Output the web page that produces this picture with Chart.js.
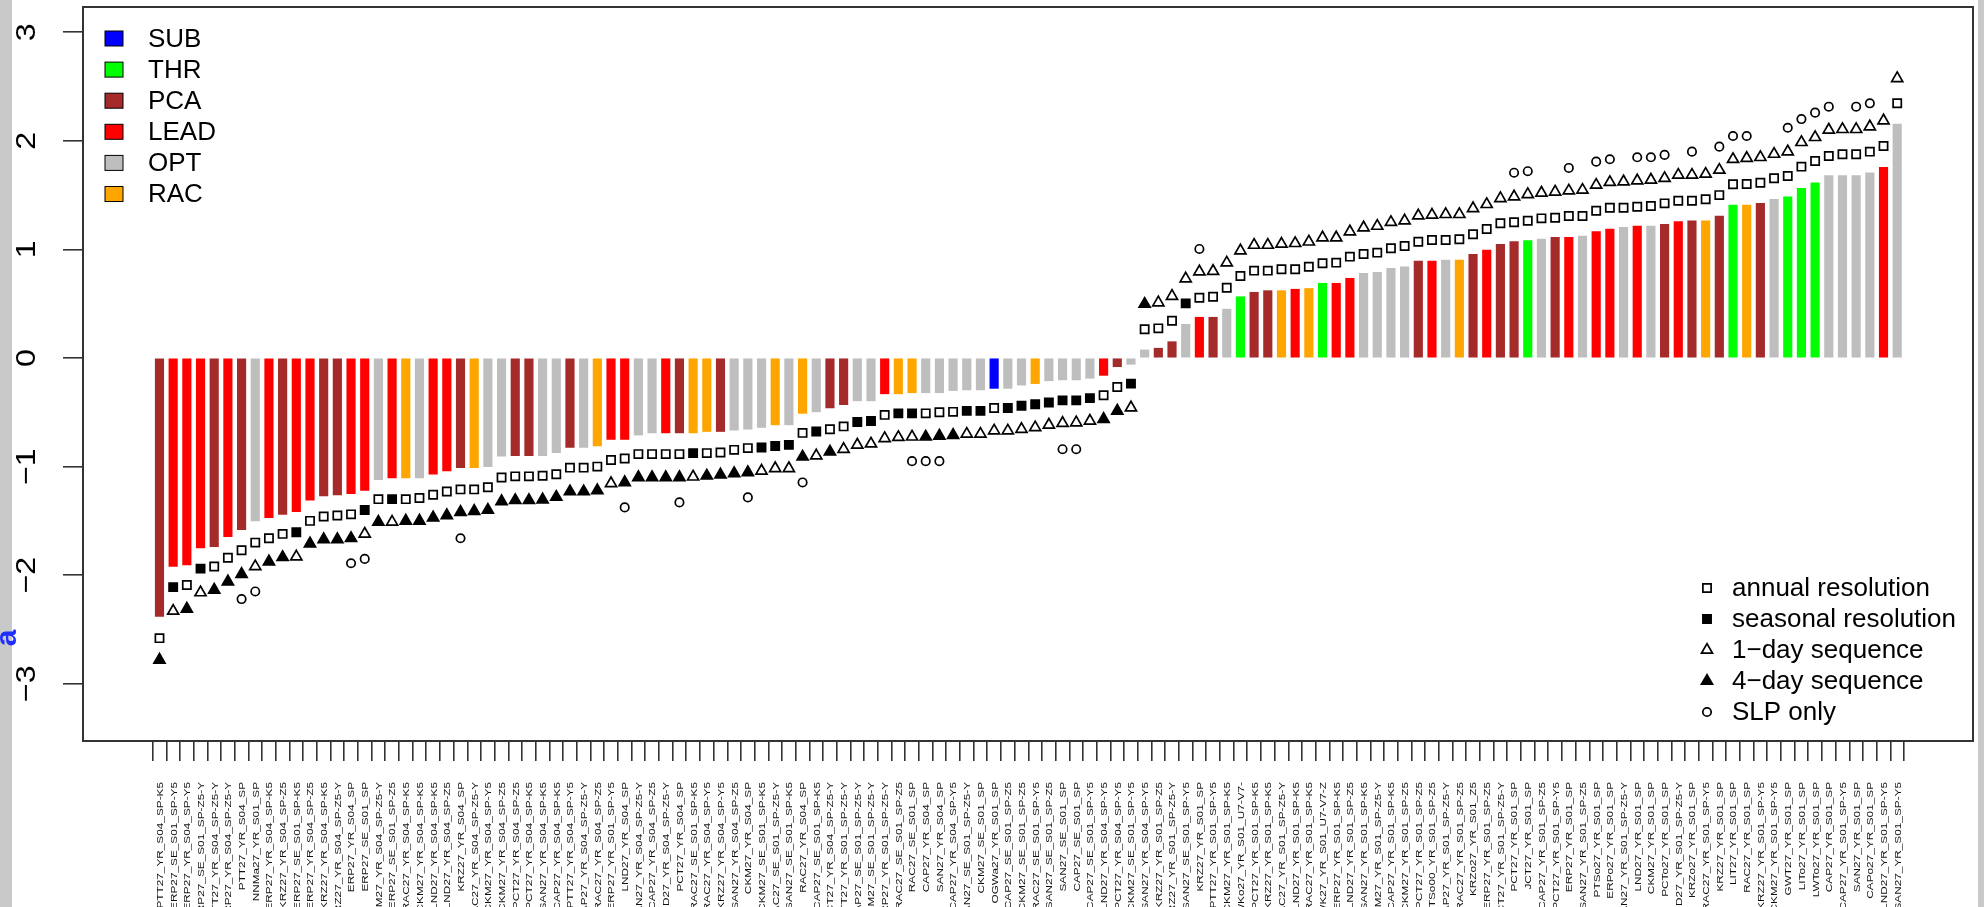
<!DOCTYPE html>
<html>
<head>
<meta charset="utf-8">
<title>Skill scores by reconstruction</title>
<style>
  html, body { margin: 0; padding: 0; background: #fff; overflow: hidden; }
  canvas { display: block; }
</style>
<script src="https://cdn.jsdelivr.net/npm/chart.js@4/dist/chart.umd.min.js"></script>
</head>
<body>
<canvas id="c" width="1984" height="907"></canvas>
<script>
// ---- reconstruction names (x axis), sorted by bar value ----
const categories = [
  "PTT27_YR_S04_SP-K5","ERP27_SE_S01_SP-Y5","ERP27_YR_S04_SP-Y5","ERP27_SE_S01_SP-Z5-Y","PTT27_YR_S04_SP-Z5-Y",
  "ERP27_YR_S04_SP-Z5-Y","PTT27_YR_S04_SP","NNMa27_YR_S01_SP","ERP27_YR_S04_SP-K5","KRZ27_YR_S04_SP-Z5",
  "ERP27_SE_S01_SP-K5","ERP27_YR_S04_SP-Z5","KRZ27_YR_S04_SP-K5","KRZ27_YR_S04_SP-Z5-Y","ERP27_YR_S04_SP",
  "ERP27_SE_S01_SP","CKM27_YR_S04_SP-Z5-Y","ERP27_SE_S01_SP-Z5","RAC27_YR_S04_SP-K5","CKM27_YR_S04_SP-K5",
  "LND27_YR_S04_SP-K5","LND27_YR_S04_SP-Z5","KRZ27_YR_S04_SP","RAC27_YR_S04_SP-Z5-Y","CKM27_YR_S04_SP-Y5",
  "CKM27_YR_S04_SP-Z5","PCT27_YR_S04_SP-Z5","PCT27_YR_S04_SP-K5","SAN27_YR_S04_SP-K5","CAP27_YR_S04_SP-K5",
  "PTT27_YR_S04_SP-Y5","CAP27_YR_S04_SP-Z5-Y","RAC27_YR_S04_SP-Z5","ERP27_YR_S01_SP-Y5","LND27_YR_S04_SP",
  "SAN27_YR_S04_SP-Z5-Y","CAP27_YR_S04_SP-Z5","LND27_YR_S04_SP-Z5-Y","PCT27_YR_S04_SP","RAC27_SE_S01_SP-K5",
  "RAC27_YR_S04_SP-Y5","KRZ27_YR_S04_SP-Y5","SAN27_YR_S04_SP-Z5","CKM27_YR_S04_SP","CKM27_SE_S01_SP-K5",
  "RAC27_SE_S01_SP-Z5-Y","SAN27_SE_S01_SP-K5","RAC27_YR_S04_SP","CAP27_SE_S01_SP-K5","PCT27_YR_S04_SP-Z5-Y",
  "PTT27_YR_S01_SP-Z5-Y","CAP27_SE_S01_SP-Z5-Y","CKM27_SE_S01_SP-Z5-Y","ERP27_YR_S01_SP-Z5-Y","RAC27_SE_S01_SP-Z5",
  "RAC27_SE_S01_SP","CAP27_YR_S04_SP","SAN27_YR_S04_SP","CAP27_YR_S04_SP-Y5","SAN27_SE_S01_SP-Z5-Y",
  "CKM27_SE_S01_SP","OGWa27_YR_S01_SP","CAP27_SE_S01_SP-Z5","CKM27_SE_S01_SP-Z5","RAC27_SE_S01_SP-Y5",
  "SAN27_SE_S01_SP-Z5","SAN27_SE_S01_SP","CAP27_SE_S01_SP","CAP27_SE_S01_SP-Y5","LND27_YR_S04_SP-Y5",
  "PCT27_YR_S04_SP-Y5","CKM27_SE_S01_SP-Y5","SAN27_YR_S04_SP-Y5","KRZ27_YR_S01_SP-Z5","KRZ27_YR_S01_SP-Z5-Y",
  "SAN27_SE_S01_SP-Y5","KRZ27_YR_S01_SP","PTT27_YR_S01_SP-Y5","CKM27_YR_S01_SP-K5","LWKo27_YR_S01_U7-V7-",
  "PCT27_YR_S01_SP-K5","KRZ27_YR_S01_SP-K5","RAC27_YR_S01_SP-Z5-Y","LND27_YR_S01_SP-K5","RAC27_YR_S01_SP-K5",
  "LWK27_YR_S01_U7-V7-Z","ERP27_YR_S01_SP-K5","LND27_YR_S01_SP-Z5","SAN27_YR_S01_SP-K5","CKM27_YR_S01_SP-Z5-Y",
  "CAP27_YR_S01_SP-K5","CKM27_YR_S01_SP-Z5","PCT27_YR_S01_SP-Z5","PTSo00_YR_S01_SP-Z5","CAP27_YR_S01_SP-Z5-Y",
  "RAC27_YR_S01_SP-Z5","KRZo27_YR_S01_Z5","ERP27_YR_S01_SP-Z5","PCT27_YR_S01_SP-Z5-Y","PCT27_YR_S01_SP",
  "JCT27_YR_S01_SP","CAP27_YR_S01_SP-Z5","PCT27_YR_S01_SP-Y5","ERP27_YR_S01_SP","SAN27_YR_S01_SP-Z5",
  "PTSo27_YR_S01_SP","ERPo27_YR_S01_SP","SAN27_YR_S01_SP-Z5-Y","LND27_YR_S01_SP","CKM27_YR_S01_SP",
  "PCTo27_YR_S01_SP","LND27_YR_S01_SP-Z5-Y","KRZo27_YR_S01_SP","RAC27_YR_S01_SP-Y5","KRZ27_YR_S01_SP",
  "LIT27_YR_S01_SP","RAC27_YR_S01_SP","KRZ27_YR_S01_SP-Y5","CKM27_YR_S01_SP-Y5","GWT27_YR_S01_SP",
  "LITo27_YR_S01_SP","LWTo27_YR_S01_SP","CAP27_YR_S01_SP","CAP27_YR_S01_SP-Y5","SAN27_YR_S01_SP",
  "CAPo27_YR_S01_SP","LND27_YR_S01_SP-Y5","SAN27_YR_S01_SP-Y5"
];

// method group of each reconstruction (bar colour)
const methodGroup = [
  "PCA","LEAD","LEAD","LEAD","PCA","LEAD","PCA","OPT","LEAD","PCA",
  "LEAD","LEAD","PCA","PCA","LEAD","LEAD","OPT","LEAD","RAC","OPT",
  "LEAD","LEAD","PCA","RAC","OPT","OPT","PCA","PCA","OPT","OPT",
  "PCA","OPT","RAC","LEAD","LEAD","OPT","OPT","LEAD","PCA","RAC",
  "RAC","PCA","OPT","OPT","OPT","RAC","OPT","RAC","OPT","PCA",
  "PCA","OPT","OPT","LEAD","RAC","RAC","OPT","OPT","OPT","OPT",
  "OPT","SUB","OPT","OPT","RAC","OPT","OPT","OPT","OPT","LEAD",
  "PCA","OPT","OPT","PCA","PCA","OPT","LEAD","PCA","OPT","THR",
  "PCA","PCA","RAC","LEAD","RAC","THR","LEAD","LEAD","OPT","OPT",
  "OPT","OPT","PCA","LEAD","OPT","RAC","PCA","LEAD","PCA","PCA",
  "THR","OPT","PCA","LEAD","OPT","LEAD","LEAD","OPT","LEAD","OPT",
  "PCA","LEAD","PCA","RAC","PCA","THR","RAC","PCA","OPT","THR",
  "THR","THR","OPT","OPT","OPT","OPT","LEAD","OPT"
];

// bar heights
const barValues = [
  -2.38,-1.92,-1.905,-1.75,-1.737,-1.645,-1.58,-1.50,-1.47,-1.44,
  -1.415,-1.31,-1.27,-1.26,-1.25,-1.22,-1.12,-1.105,-1.105,-1.105,
  -1.07,-1.04,-1.01,-1.01,-1.00,-0.905,-0.90,-0.90,-0.90,-0.873,
  -0.824,-0.824,-0.81,-0.75,-0.75,-0.71,-0.69,-0.69,-0.69,-0.69,
  -0.677,-0.677,-0.665,-0.656,-0.64,-0.616,-0.616,-0.51,-0.496,-0.46,
  -0.43,-0.395,-0.395,-0.33,-0.33,-0.32,-0.32,-0.32,-0.30,-0.294,
  -0.294,-0.28,-0.28,-0.25,-0.236,-0.21,-0.202,-0.202,-0.187,-0.16,
  -0.08,-0.058,0.074,0.09,0.15,0.31,0.375,0.375,0.45,0.564,
  0.605,0.62,0.62,0.633,0.64,0.688,0.688,0.734,0.78,0.789,
  0.826,0.84,0.893,0.893,0.902,0.902,0.955,0.994,1.047,1.071,
  1.08,1.096,1.111,1.111,1.123,1.163,1.188,1.203,1.215,1.215,
  1.231,1.255,1.264,1.264,1.307,1.409,1.409,1.424,1.461,1.485,
  1.562,1.614,1.679,1.679,1.679,1.706,1.756,2.155
];

// square markers: value, and resolution (A = annual, S = seasonal)
const resolutionVals = [
  -2.58,-2.11,-2.09,-1.94,-1.92,-1.84,-1.77,-1.70,-1.66,-1.62,
  -1.605,-1.50,-1.46,-1.45,-1.44,-1.40,-1.30,-1.30,-1.30,-1.29,
  -1.26,-1.23,-1.21,-1.21,-1.19,-1.10,-1.09,-1.09,-1.085,-1.07,
  -1.01,-1.01,-1.00,-0.94,-0.925,-0.885,-0.885,-0.885,-0.885,-0.876,
  -0.876,-0.87,-0.846,-0.83,-0.824,-0.81,-0.80,-0.69,-0.677,-0.656,
  -0.63,-0.59,-0.58,-0.524,-0.51,-0.51,-0.51,-0.50,-0.496,-0.487,
  -0.487,-0.46,-0.46,-0.44,-0.426,-0.41,-0.39,-0.39,-0.37,-0.343,
  -0.267,-0.236,0.264,0.273,0.343,0.503,0.555,0.564,0.647,0.755,
  0.804,0.804,0.817,0.817,0.84,0.872,0.878,0.933,0.958,0.97,
  1.01,1.031,1.071,1.087,1.087,1.093,1.139,1.188,1.24,1.25,
  1.264,1.286,1.292,1.307,1.307,1.356,1.384,1.384,1.393,1.40,
  1.424,1.448,1.448,1.461,1.50,1.60,1.602,1.614,1.655,1.676,
  1.762,1.814,1.86,1.876,1.876,1.90,1.952,2.345
];
const resolutionKind =
  "ASASAAAAAA" + "SAAAASASAA" + "AAAAAAAAAA" + "AAAAAAAAAS" + "AAAASSSASA" +
  "ASSASSAAAS" + "SASSSSSSSA" + "ASAAASAAAA" + "A".repeat(48);

// triangle markers: value, and sequence length in days (1 or 4)
const sequenceVals = [
  -2.78,-2.33,-2.31,-2.16,-2.135,-2.06,-1.99,-1.92,-1.875,-1.835,
  -1.83,-1.71,-1.67,-1.67,-1.66,-1.62,-1.51,-1.51,-1.50,-1.50,
  -1.47,-1.45,-1.42,-1.41,-1.40,-1.32,-1.31,-1.31,-1.305,-1.28,
  -1.23,-1.23,-1.22,-1.155,-1.146,-1.10,-1.10,-1.10,-1.10,-1.094,
  -1.085,-1.075,-1.063,-1.054,-1.04,-1.017,-1.017,-0.91,-0.90,-0.864,
  -0.84,-0.80,-0.79,-0.74,-0.73,-0.726,-0.726,-0.717,-0.71,-0.70,
  -0.70,-0.67,-0.67,-0.656,-0.64,-0.616,-0.60,-0.595,-0.58,-0.563,
  -0.487,-0.457,0.497,0.51,0.57,0.73,0.795,0.80,0.877,0.988,
  1.04,1.04,1.05,1.056,1.07,1.108,1.108,1.163,1.20,1.215,
  1.25,1.264,1.31,1.317,1.323,1.323,1.377,1.415,1.47,1.485,
  1.507,1.52,1.53,1.54,1.547,1.593,1.618,1.624,1.633,1.64,
  1.655,1.685,1.685,1.694,1.731,1.83,1.84,1.848,1.878,1.90,
  1.986,2.032,2.10,2.106,2.106,2.13,2.185,2.575
];
const sequenceDays =
  "4141444144" + "1444414144" + "4444444444" + "4441444441" + "4444111414" +
  "1111114441" + "1111111114" + "4141111111" + "1".repeat(48);

// circle markers (SLP only), null where not available
const slpOnly = [
  null,null,null,null,null,null,-2.22,-2.15,null,null,
  null,null,null,null,-1.89,-1.85,null,null,null,null,
  null,null,-1.66,null,null,null,null,null,null,null,
  null,null,null,null,-1.376,null,null,null,-1.33,null,
  null,null,null,-1.284,null,null,null,-1.146,null,null,
  null,null,null,null,null,-0.95,-0.95,-0.95,null,null,
  null,null,null,null,null,null,-0.84,-0.84,null,null,
  null,null,null,null,null,null,1.004,null,null,null,
  null,null,null,null,null,null,null,null,null,null,
  null,null,null,null,null,null,null,null,null,1.706,
  1.72,null,null,1.75,null,1.808,1.83,null,1.848,1.848,
  1.87,null,1.90,null,1.946,2.044,2.044,null,null,2.12,
  2.20,2.259,2.314,null,2.314,2.345,null,null
];

const yTicks = [-3, -2, -1, 0, 1, 2, 3];

const groupNames = ["SUB", "THR", "PCA", "LEAD", "OPT", "RAC"];
const groupColors = ["#0000FF", "#00FF00", "#A52A2A", "#FF0000", "#BEBEBE", "#FFA500"];

const markerNames = ["annual resolution", "seasonal resolution", "1\u2212day sequence", "4\u2212day sequence", "SLP only"];

// ---- helpers ----
const FONT = '"Liberation Sans", Arial, Helvetica, sans-serif';
const colorOf = g => groupColors[groupNames.indexOf(g)];

function pick(vals, keep) {
  const out = [];
  vals.forEach((v, i) => { if (v !== null && keep(i)) out.push({ x: i, y: v }); });
  return out;
}

const SQ_R = 5.8, TRI_R = 6.4, CIR_R = 4.2, LW = 1.7;

function pointSet(data, style, radius, filled) {
  return {
    type: 'scatter',
    data,
    order: 0,
    pointStyle: style,
    pointRadius: radius,
    pointHoverRadius: radius,
    pointBorderWidth: LW,
    borderColor: '#000',
    pointBorderColor: '#000',
    pointBackgroundColor: filled ? '#000' : 'rgba(0,0,0,0)',
    backgroundColor: filled ? '#000' : 'rgba(0,0,0,0)'
  };
}

// legend glyphs drawn with the same shapes as the plotted markers
function glyph(ctx, kind, x, y) {
  ctx.save();
  ctx.lineWidth = LW;
  ctx.strokeStyle = '#000';
  ctx.fillStyle = '#000';
  ctx.beginPath();
  if (kind === 0 || kind === 1) {
    const s = SQ_R * Math.SQRT1_2;
    ctx.rect(x - s, y - s, 2 * s, 2 * s);
  } else if (kind === 2 || kind === 3) {
    let a = 0;
    ctx.moveTo(x + Math.sin(a) * TRI_R, y - Math.cos(a) * TRI_R);
    a += 2 * Math.PI / 3;
    ctx.lineTo(x + Math.sin(a) * TRI_R, y - Math.cos(a) * TRI_R);
    a += 2 * Math.PI / 3;
    ctx.lineTo(x + Math.sin(a) * TRI_R, y - Math.cos(a) * TRI_R);
    ctx.closePath();
  } else {
    ctx.arc(x, y, CIR_R, 0, 2 * Math.PI);
  }
  if (kind === 1 || kind === 3) ctx.fill();
  ctx.stroke();
  ctx.restore();
}

const decorations = {
  id: 'decorations',
  beforeDraw(chart) {
    const ctx = chart.ctx;
    ctx.save();
    ctx.fillStyle = '#fff';
    ctx.fillRect(0, 0, chart.width, chart.height);
    ctx.restore();
  },
  afterDraw(chart) {
    const { ctx, chartArea: a, scales: { x, y } } = chart;
    ctx.save();

    // plot frame
    ctx.strokeStyle = '#333';
    ctx.lineWidth = 2;
    ctx.strokeRect(a.left, a.top, a.right - a.left, a.bottom - a.top);

    // y tick labels, rotated
    ctx.fillStyle = '#000';
    ctx.font = `28px ${FONT}`;
    ctx.textAlign = 'center';
    ctx.textBaseline = 'alphabetic';
    yTicks.forEach(v => {
      const py = y.getPixelForValue(v);
      ctx.save();
      ctx.translate(a.left - 48, py);
      ctx.rotate(-Math.PI / 2);
      ctx.scale(1.15, 1);
      ctx.fillText(v < 0 ? '\u2212' + Math.abs(v) : String(v), 0, 0);
      ctx.restore();
    });

    // x tick labels, rotated and right-aligned under the tick marks
    ctx.fillStyle = '#111';
    ctx.font = `11.8px ${FONT}`;
    ctx.textAlign = 'right';
    categories.forEach((lab, i) => {
      const px = x.getPixelForValue(i);
      ctx.save();
      ctx.translate(px + 3.4, a.bottom + 41);
      ctx.rotate(-Math.PI / 2);
      ctx.scale(1, 0.78);
      ctx.fillText(lab, 0, 0);
      ctx.restore();
    });

    // group legend (top left)
    ctx.font = `26px ${FONT}`;
    ctx.textAlign = 'left';
    ctx.textBaseline = 'middle';
    groupNames.forEach((g, k) => {
      const ry = a.top + 31.5 + k * 31.1;
      ctx.fillStyle = groupColors[k];
      ctx.fillRect(a.left + 22, ry - 7.5, 18, 15);
      ctx.strokeStyle = '#000';
      ctx.lineWidth = 1;
      ctx.strokeRect(a.left + 22, ry - 7.5, 18, 15);
      ctx.fillStyle = '#000';
      ctx.fillText(g, a.left + 65, ry + 1);
    });

    // marker legend (bottom right)
    markerNames.forEach((m, k) => {
      const ry = a.top + 581 + k * 31;
      glyph(ctx, k, a.right - 266, ry);
      ctx.fillStyle = '#000';
      ctx.fillText(m, a.right - 241, ry + 1);
    });

    // window edges
    ctx.fillStyle = '#c9c9c9';
    ctx.fillRect(0, 0, 12, chart.height);
    ctx.fillRect(chart.width - 6, 0, 6, chart.height);
    ctx.save();
    ctx.fillStyle = '#1f2fff';
    ctx.font = `bold 30px ${FONT}`;
    ctx.translate(8, 638);
    ctx.rotate(-Math.PI / 2);
    ctx.textAlign = 'center';
    ctx.fillText('a', 0, 0);
    ctx.restore();

    ctx.restore();
  }
};

const barData = barValues.map((v, i) => ({ x: i, y: v }));

new Chart(document.getElementById('c'), {
  type: 'bar',
  data: {
    datasets: [
      pointSet(pick(resolutionVals, i => resolutionKind[i] === 'A'), 'rect', SQ_R, false),
      pointSet(pick(resolutionVals, i => resolutionKind[i] === 'S'), 'rect', SQ_R, true),
      pointSet(pick(sequenceVals, i => sequenceDays[i] === '1'), 'triangle', TRI_R, false),
      pointSet(pick(sequenceVals, i => sequenceDays[i] === '4'), 'triangle', TRI_R, true),
      pointSet(pick(slpOnly, () => true), 'circle', CIR_R, false),
      {
        type: 'bar',
        data: barData,
        order: 10,
        backgroundColor: methodGroup.map(colorOf),
        borderWidth: 0,
        barThickness: 8.5
      }
    ]
  },
  options: {
    responsive: false,
    animation: false,
    devicePixelRatio: 1,
    events: [],
    layout: { autoPadding: false, padding: { left: 63, top: 7, right: 11, bottom: 146 } },
    plugins: { legend: { display: false }, tooltip: { enabled: false } },
    scales: {
      x: {
        type: 'linear',
        min: -5.05,
        max: 132.0,
        afterBuildTicks: s => { s.ticks = categories.map((_, i) => ({ value: i })); },
        ticks: { display: false, autoSkip: false },
        grid: { display: true, drawOnChartArea: false, drawTicks: true, tickLength: 20, color: '#333', lineWidth: 1.6 },
        border: { display: false }
      },
      y: {
        type: 'linear',
        min: -3.527,
        max: 3.232,
        afterBuildTicks: s => { s.ticks = yTicks.map(v => ({ value: v })); },
        ticks: { display: false },
        grid: { display: true, drawOnChartArea: false, drawTicks: true, tickLength: 20, color: '#333', lineWidth: 1.6 },
        border: { display: false }
      }
    }
  },
  plugins: [decorations]
});
</script>
</body>
</html>
